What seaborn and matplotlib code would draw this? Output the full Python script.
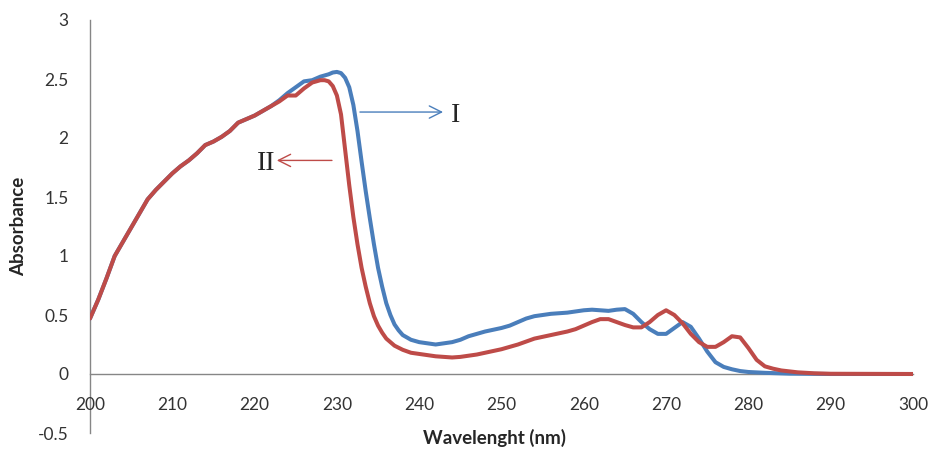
import numpy as np
import pandas as pd
import matplotlib
matplotlib.use("Agg")
import matplotlib.pyplot as plt
import seaborn as sns

# spectrum I (blue)
wl_I = [200, 201, 202, 203, 204, 205, 206, 207, 208, 209, 210, 211, 212, 213, 214, 215,
        216, 217, 218, 219, 220, 221, 222, 223, 224, 225, 226, 227, 228, 229, 229.5, 230,
        230.5, 231, 231.5, 232, 232.5, 233, 233.5, 234, 234.5, 235, 235.5, 236, 236.5, 237,
        237.5, 238, 239, 240, 241, 242, 243, 244, 245, 246, 247,
        248, 249, 250, 251, 252, 253, 254, 255, 256, 257, 258, 259, 260, 261, 262, 263,
        264, 265, 266, 267, 268, 269, 270, 271, 272, 273, 274, 275, 276, 277, 278, 279,
        280, 282, 285, 290, 300]
abs_I = [0.47, 0.63, 0.81, 1.00, 1.12, 1.24, 1.36, 1.48, 1.56, 1.63, 1.70, 1.76, 1.81, 1.87,
         1.94, 1.97, 2.01, 2.06, 2.13, 2.16, 2.19, 2.23, 2.27, 2.32, 2.38, 2.43, 2.48, 2.49,
         2.52, 2.54, 2.555, 2.56,
         2.55, 2.51, 2.43, 2.28, 2.06, 1.80, 1.55, 1.32, 1.10, 0.90, 0.74, 0.60, 0.50, 0.42,
         0.37, 0.33, 0.29, 0.27, 0.26,
         0.25, 0.26, 0.27, 0.29, 0.32, 0.34, 0.36, 0.375, 0.39, 0.41, 0.44, 0.47, 0.49, 0.50,
         0.51, 0.515, 0.52, 0.53, 0.54, 0.545, 0.54, 0.535, 0.545, 0.55, 0.51, 0.44, 0.38,
         0.34, 0.34, 0.39, 0.44, 0.40, 0.30, 0.19, 0.10, 0.06, 0.04, 0.025, 0.017, 0.01,
         0.003, 0.0, 0.0]

# spectrum II (red)
wl_II = [200, 201, 202, 203, 204, 205, 206, 207, 208, 209, 210, 211, 212, 213, 214, 215,
         216, 217, 218, 219, 220, 221, 222, 223, 224, 225, 226, 227, 228, 228.5, 229, 229.5,
         230, 230.5, 231, 231.5, 232, 232.5, 233, 233.5, 234, 234.5, 235, 235.5, 236, 237,
         238, 239, 240, 241, 242, 243, 244, 245,
         246, 247, 248, 249, 250, 251, 252, 253, 254, 255, 256, 257, 258, 259, 260, 261,
         262, 263, 264, 265, 266, 267, 268, 269, 270, 271, 272, 273, 274, 275, 276, 277,
         278, 279, 280, 281, 282, 283, 284, 286, 288, 290, 300]
abs_II = [0.47, 0.63, 0.81, 1.00, 1.12, 1.24, 1.36, 1.48, 1.56, 1.63, 1.70, 1.76, 1.81, 1.87,
          1.94, 1.97, 2.01, 2.06, 2.13, 2.16, 2.19, 2.23, 2.27, 2.31, 2.36, 2.36, 2.42, 2.47,
          2.49, 2.49, 2.48, 2.44,
          2.36, 2.20, 1.90, 1.60, 1.33, 1.10, 0.90, 0.74, 0.60, 0.49, 0.41, 0.35, 0.30, 0.24,
          0.205, 0.18,
          0.17, 0.16, 0.15, 0.145, 0.14, 0.145, 0.155, 0.165, 0.18, 0.195, 0.21, 0.23, 0.25,
          0.275, 0.30, 0.315, 0.33, 0.345, 0.36, 0.38, 0.41, 0.44, 0.465, 0.465, 0.44, 0.415,
          0.395, 0.395, 0.44, 0.50, 0.54, 0.50, 0.43, 0.34, 0.27, 0.23, 0.23, 0.27, 0.32,
          0.31, 0.22, 0.12, 0.065, 0.045, 0.03, 0.014, 0.006, 0.002, 0.0]

x_ticks = [200, 210, 220, 230, 240, 250, 260, 270, 280, 290, 300]
y_ticks = [-0.5, 0, 0.5, 1, 1.5, 2, 2.5, 3]
y_tick_labels = ["-0.5", "0", "0.5", "1", "1.5", "2", "2.5", "3"]

blue = "#4A7EBB"
red = "#BE4B48"
grey = "#868686"

df = pd.concat([
    pd.DataFrame({"wl": wl_I, "absorbance": abs_I, "sample": "I"}),
    pd.DataFrame({"wl": wl_II, "absorbance": abs_II, "sample": "II"}),
], ignore_index=True)

sns.set_style("white")
plt.rcParams["font.family"] = ["Lato", "DejaVu Sans"]

fig = plt.figure(figsize=(9.33, 4.53), dpi=100)
ax = fig.add_axes([90 / 933, 20 / 453, 823 / 933, 413 / 453])

sns.lineplot(data=df, x="wl", y="absorbance", hue="sample", hue_order=["I", "II"],
             palette={"I": blue, "II": red}, estimator=None, sort=False,
             legend=False, lw=2.9, ax=ax)
for ln in ax.lines:
    ln.set_solid_joinstyle("round")
    ln.set_solid_capstyle("round")

ax.set_xlim(200, 300)
ax.set_ylim(-0.5, 3)
ax.set_xticks(x_ticks)
ax.set_yticks(y_ticks)
ax.set_yticklabels(y_tick_labels)

ax.spines["top"].set_visible(False)
ax.spines["right"].set_visible(False)
ax.spines["bottom"].set_position(("data", 0))
for s in ["left", "bottom"]:
    ax.spines[s].set_color(grey)
    ax.spines[s].set_linewidth(1)
    ax.spines[s].set_zorder(0.5)

ax.tick_params(axis="x", direction="out", length=4.5, width=1, color=grey,
               pad=12, labelsize=12.5, labelcolor="#333333")
ax.tick_params(axis="y", direction="out", length=4.5, width=1, color=grey,
               pad=11, labelsize=12.5, labelcolor="#333333")

ax.set_xlabel("Wavelenght (nm)", fontsize=13.5, fontweight="bold", va="center")
ax.xaxis.set_label_coords(0.491, -0.012)
ax.set_ylabel("Absorbance", fontsize=13.5, fontweight="bold", va="center")
ax.yaxis.set_label_coords(-0.0863, 0.5)

# arrows pointing to the curves
ax.annotate("", xy=(242.9, 2.22), xytext=(232.8, 2.22),
            arrowprops=dict(arrowstyle="->", color=blue, lw=1, mutation_scale=22,
                            shrinkA=0, shrinkB=0))
ax.text(244.4, 2.22, "I", fontsize=20, family="Liberation Serif",
        ha="center", va="center_baseline")
ax.annotate("", xy=(222.7, 1.81), xytext=(229.4, 1.81),
            arrowprops=dict(arrowstyle="->", color=red, lw=1, mutation_scale=22,
                            shrinkA=0, shrinkB=0))
ax.text(221.4, 1.81, "II", fontsize=20, family="Liberation Serif",
        ha="center", va="center_baseline")

fig.savefig("out.png", dpi=100)
